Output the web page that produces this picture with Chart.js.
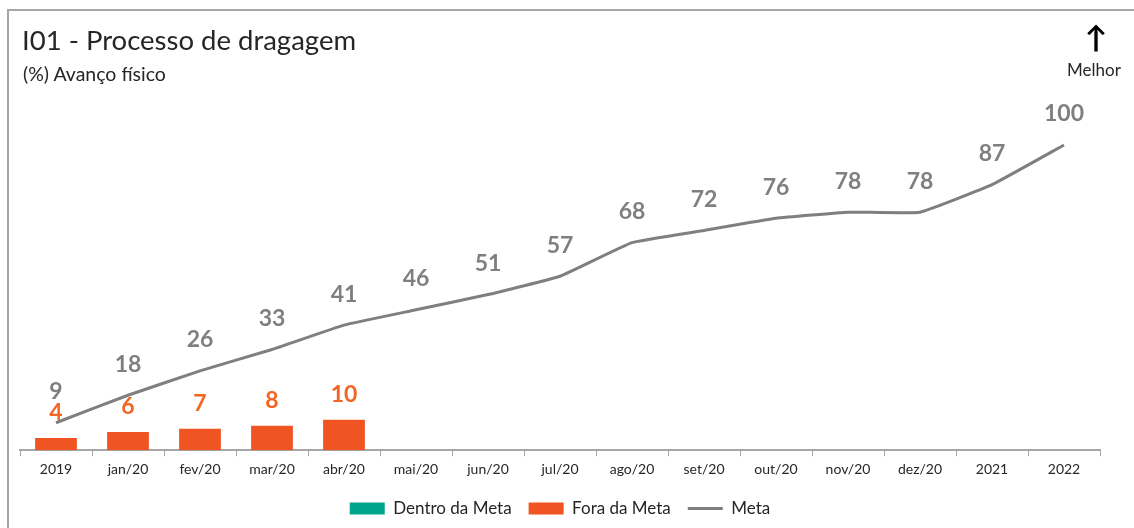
<!DOCTYPE html>
<html>
<head>
<meta charset="utf-8">
<script src="https://cdn.jsdelivr.net/npm/chart.js@4"></script>
<style>
    html, body { margin: 0; padding: 0; background: #fff; }
    body { width: 1134px; height: 528px; position: relative; overflow: hidden; font-family: Lato, "Open Sans", sans-serif; }
    #frame { position: absolute; left: 7px; top: 9px; width: 1200px; height: 600px; border-top: 2px solid #A6A6A6; border-left: 2px solid #A6A6A6; }
    #title { position: absolute; left: 22px; top: 23px; font-size: 27.5px; color: #262626; }
    #subtitle { position: absolute; left: 23px; top: 62px; font-size: 19.5px; color: #262626; }
    #arrow { position: absolute; left: 1082px; top: 18px; width: 28px; text-align: center; font-size: 30px; font-weight: bold; color: #000; }
    #melhor { position: absolute; left: 1067px; top: 59px; font-size: 17px; color: #262626; }
    #wrap { position: absolute; left: 0; top: 0; width: 1134px; height: 528px; }
</style>
</head>
<body>
<div id="frame"></div>
<div id="wrap"><canvas id="grafico" width="1134" height="528"></canvas></div>
<div id="title">I01 - Processo de dragagem</div>
<div id="subtitle">(%) Avanço físico</div>
<div id="arrow">↑</div>
<div id="melhor">Melhor</div>
<script>
const categorias = ['2019', 'jan/20', 'fev/20', 'mar/20', 'abr/20', 'mai/20', 'jun/20', 'jul/20', 'ago/20', 'set/20', 'out/20', 'nov/20', 'dez/20', '2021', '2022'];
const dentroDaMeta = [null, null, null, null, null, null, null, null, null, null, null, null, null, null, null];
const foraDaMeta = [4, 6, 7, 8, 10, null, null, null, null, null, null, null, null, null, null];
const meta = [9, 18, 26, 33, 41, 46, 51, 57, 68, 72, 76, 78, 78, 87, 100];

const rotulos = {
    id: 'rotulos',
    afterDatasetsDraw(chart) {
        const ctx = chart.ctx;
        ctx.save();
        ctx.textAlign = 'center';
        ctx.textBaseline = 'middle';
        ctx.font = 'bold 23px Lato, "Open Sans", sans-serif';
        chart.data.datasets.forEach((ds, i) => {
            if (!ds.rotuloCor) return;
            const meta = chart.getDatasetMeta(i);
            meta.data.forEach((el, j) => {
                const v = ds.data[j];
                if (v === null || v === undefined) return;
                ctx.fillStyle = ds.rotuloCor;
                ctx.fillText(v, el.x, el.y - ds.rotuloDist);
            });
        });
        ctx.restore();
    }
};

const chart = new Chart(document.getElementById('grafico').getContext('2d'), {
    data: {
        labels: categorias,
        datasets: [
            {
                type: 'line',
                label: 'Meta',
                data: meta,
                borderColor: '#7F7F7F',
                backgroundColor: '#7F7F7F',
                borderWidth: 3,
                pointRadius: 0,
                tension: 0.1,
                order: 0,
                rotuloCor: '#7F7F7F',
                rotuloDist: 31
            },
            {
                type: 'bar',
                label: 'Dentro da Meta',
                data: dentroDaMeta,
                backgroundColor: '#00A38B',
                order: 2,
                grouped: false
            },
            {
                type: 'bar',
                label: 'Fora da Meta',
                data: foraDaMeta,
                backgroundColor: '#F05423',
                barPercentage: 0.58,
                categoryPercentage: 1,
                order: 1,
                grouped: false,
                rotuloCor: '#F26522',
                rotuloDist: 25
            }
        ]
    },
    options: {
        responsive: false,
        animation: false,
        devicePixelRatio: 1,
        layout: { padding: { left: 20, right: 34, top: 84, bottom: 1 } },
        plugins: {
            tooltip: { enabled: false },
            legend: {
                position: 'bottom',
                labels: {
                    usePointStyle: true,
                    pointStyleWidth: 35,
                    boxHeight: 12,
                    padding: 17,
                    color: '#262626',
                    font: { size: 17, family: 'Lato, "Open Sans", sans-serif' },
                    generateLabels(chart) {
                        const ordem = [1, 2, 0];
                        return ordem.map(i => {
                            const ds = chart.data.datasets[i];
                            const linha = ds.type === 'line';
                            return {
                                text: ds.label,
                                fillStyle: linha ? 'transparent' : ds.backgroundColor,
                                strokeStyle: linha ? ds.borderColor : ds.backgroundColor,
                                lineWidth: linha ? 3 : 0,
                                pointStyle: linha ? 'line' : 'rect',
                                fontColor: '#262626',
                                datasetIndex: i
                            };
                        });
                    }
                }
            }
        },
        scales: {
            x: {
                offset: true,
                grid: { display: true, drawOnChartArea: false, offset: true, tickLength: 6, color: '#A6A6A6' },
                border: { display: true, color: '#A6A6A6', width: 2 },
                ticks: { color: '#262626', padding: 5, font: { size: 14, family: 'Lato, "Open Sans", sans-serif' }, maxRotation: 0 }
            },
            y: {
                display: false,
                min: 0,
                max: 120
            }
        }
    },
    plugins: [rotulos]
});
</script>
</body>
</html>
